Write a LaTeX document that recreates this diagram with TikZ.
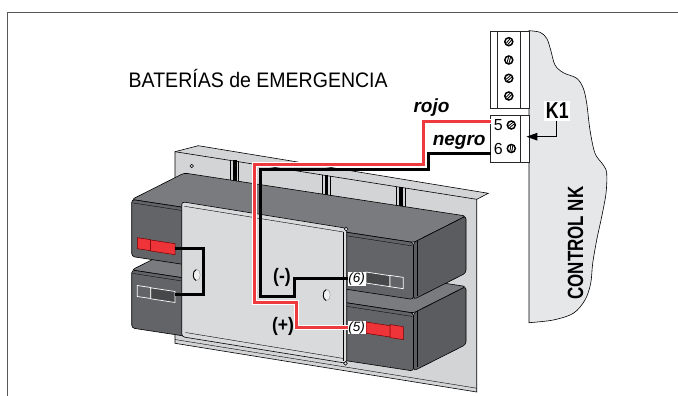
\documentclass[tikz,border=0pt]{standalone}
\usepackage{fontspec}
\setmainfont{Liberation Sans}
\newfontfamily\titlefont[FakeStretch=0.93]{Liberation Sans}
\newfontfamily\condfont[FakeStretch=0.77]{Liberation Sans}
\newfontfamily\signfont[FakeStretch=0.9]{Liberation Sans}
\usetikzlibrary{arrows.meta}

\definecolor{platec}{HTML}{D3D4D6}
\definecolor{brackc}{HTML}{D9DADC}
\definecolor{battop}{HTML}{7A7B7E}
\definecolor{batfront}{HTML}{636467}
\definecolor{batside}{HTML}{5B5C5F}
\definecolor{boardc}{HTML}{E6E7E8}
\definecolor{wirered}{HTML}{EE3A3F}
\definecolor{plugdarkc}{HTML}{47484A}
\definecolor{plugredc}{HTML}{EE3439}
\definecolor{framec}{HTML}{58595B}

\tikzset{
  edge/.style={draw=black, line width=0.6pt},
  redwire/.style={draw=wirered, line width=3pt, line join=miter,
    preaction={draw=white, line width=5pt}},
  blackwire/.style={draw=black, line width=3pt, line join=miter},
  plugred/.style={fill=plugredc, draw=red!45!black, line width=0.5pt},
  plugdark/.style={fill=plugdarkc, draw=white, line width=0.7pt},
  pluglight/.style={fill=batfront, draw=white, line width=0.7pt},
  tag/.style={fill=white, inner sep=0.6pt, font=\fontsize{13.5}{13.5}\selectfont\itshape},
  sign/.style={inner sep=0pt, font=\signfont\fontsize{19.5}{19.5}\selectfont\bfseries},
  wirename/.style={inner sep=0pt, anchor=base west, font=\fontsize{19}{19}\selectfont\bfseries\itshape},
  pinnum/.style={inner sep=0pt, font=\fontsize{16}{16}\selectfont},
  pics/battery/.style={code={
    \filldraw[fill=battop, edge, rounded corners=3pt]
      (0,0) -- (281.8,43) -- (334.3,16.5) -- (52.5,-26.5) -- cycle;
    \filldraw[fill=batside, edge, rounded corners=3pt]
      (281.8,43) -- (334.3,16.5) -- (334.3,{16.5+#1}) -- (281.8,{43+#1}) -- cycle;
    \filldraw[fill=batfront, edge, rounded corners=3pt]
      (0,0) -- (281.8,43) -- (281.8,{43+#1}) -- (0,#1) -- cycle;
    \draw[line width=0.35pt] (1,3.4) -- (280.5,46.4);
    \draw[line width=0.35pt] (285.2,41.4) -- (285.2,{41.4+#1-2});
  }},
  pics/screw/.style={code={
    \draw[line width=1.5pt, fill=white] (0,0) circle (4pt);
    \draw[line width=2.8pt, rotate=#1] (-3.8pt,0) -- (3.8pt,0);
    \draw[white, line width=0.9pt, rotate=#1] (-3.1pt,0) -- (3.1pt,0);
  }},
}

\begin{document}
\begin{tikzpicture}[x=1pt,y=-1pt]
\useasboundingbox (0,0) rectangle (678,396);

% open frame
\draw[framec, line width=0.9pt] (7.3,396) -- (7.3,12.5) -- (678,12.5);

% title
\node[anchor=base west, inner sep=0pt,
      font=\titlefont\fontsize{21}{21}\selectfont] (title) at (128.5,87.8)
      {BATERÍAS de EMERGENCIA};

% ---------- mounting plate ----------
\filldraw[fill=platec, edge]
  (175,151.7) -- (198.3,145.7) -- (488.3,193.3) -- (476.7,199.3)
  -- (476.7,392) -- (175,343.3) -- cycle;
\draw[edge] (175,151.7) -- (476.7,199.3);
\draw[line width=0.4pt] (175,339.5) -- (476.7,388.2);
\draw[line width=0.5pt] (191.7,166) circle (1.8pt);
% slots in the plate
\foreach \sx/\st/\sb in {230/159.5/181, 321.7/174.5/197, 396.5/186.5/209}{
  \draw[line width=0.4pt] (\sx,\st) -- (\sx,\sb);
  \draw[line width=0.4pt] (\sx+8.5,\st+1.3) -- (\sx+8.5,\sb);
  \fill[black] (\sx+2.8,\st+0.4) rectangle (\sx+6.6,\sb);
}

% ---------- batteries ----------
\pic (lowbat) at (131.7,270) {battery=58};
\pic (upbat) at (131.7,199.5) {battery=57};

% ---------- retaining bracket ----------
\filldraw[fill=brackc, edge, rounded corners=3pt]
  (181.7,201.7) -- (346.7,228.3) -- (346.7,363.3) -- (181.7,336.7) -- cycle;
\draw[line width=0.4pt] (184.5,206.3) -- (343.5,232);
\draw[line width=0.4pt] (343.5,232) -- (343.5,360.5);
\draw[line width=0.4pt] (185.5,332.5) -- (343.5,358.5);
\filldraw[fill=brackc, line width=0.5pt] (346.2,229) circle (1.9pt);
\filldraw[fill=brackc, line width=0.5pt] (345.5,363.3) circle (1.9pt);
% holes in the bracket
\foreach \hx/\hy in {196.7/275, 326.7/295}{
  \filldraw[fill=white!88!gray, draw=gray, line width=0.3pt]
    (\hx,\hy) ellipse (3.5pt and 5.5pt);
  \draw[line width=0.9pt, shift={(\hx,\hy)}]
    (100:3.5pt and 5.5pt) arc[start angle=100, end angle=260,
      x radius=3.5pt, y radius=5.5pt];
}

% ---------- battery plugs ----------
% upper battery, left (red)
\filldraw[plugred] (137.3,237.7) -- (150.7,239.7) -- (150.7,250.7) -- (137.3,248.7) -- cycle;
\filldraw[plugred] (150.7,240) -- (175,243.7) -- (175,254.7) -- (150.7,251) -- cycle;
\coordinate (plugA) at (175,248.3);
% lower battery, left (dark)
\filldraw[pluglight] (137.3,285.5) -- (150.7,287.5) -- (150.7,298.5) -- (137.3,296.5) -- cycle;
\filldraw[plugdark] (150.7,287.8) -- (175,291.5) -- (175,302.5) -- (150.7,298.8) -- cycle;
\coordinate (plugB) at (175,294);
% upper battery, right (dark)
\filldraw[plugdark] (366,272) -- (390,275.7) -- (390,286.7) -- (366,283) -- cycle;
\filldraw[pluglight] (390,275.4) -- (403.3,277.4) -- (403.3,288.7) -- (390,286.7) -- cycle;
% lower battery, right (red)
\filldraw[plugred] (366,322) -- (390,325.7) -- (390,337) -- (366,333.3) -- cycle;
\filldraw[plugred] (390,324.6) -- (403.3,326.6) -- (403.3,339.6) -- (390,337.6) -- cycle;

% pin tags at the right plugs
\node[tag] (lab6) at (356.7,278.8) {(6)};
\node[tag] (lab5) at (356.7,327.6) {(5)};

% ---------- control board ----------
\filldraw[fill=boardc, draw=black, line width=0.6pt]
  plot[smooth, tension=0.55] coordinates {
    (529,30.7) (540,32.3) (546.7,38.3) (550.7,50) (555,65) (563.3,72.7)
    (576.7,78.3) (583.3,88.3) (586.7,103.3) (590,130) (595,153.3)
    (603.3,165) (606.7,173.3) (606,193.3) (601.7,216.7) (596.7,240)
    (592.7,263.3) (590.7,283.3) (585,300) (573.3,313.3) (553.3,320)
    (529,322.7)} -- cycle;
\node[rotate=90, inner sep=0pt,
      font=\condfont\fontsize{22}{22}\selectfont\bfseries] (board) at (575.5,243)
      {CONTROL NK};

% terminal blocks
\filldraw[fill=white, draw=black!85, line width=0.7pt] (490.7,31.7) rectangle (529,108);
\draw[black!85, line width=0.7pt] (497,31.7) -- (497,108) (520.7,31.7) -- (520.7,108);
\filldraw[fill=white, draw=black!85, line width=0.7pt] (490.7,115) rectangle (529,162.3);
\draw[black!85, line width=0.7pt] (520.7,115) -- (520.7,162.3);
\pic at (508.8,41.7) {screw=50};
\pic at (508.8,60) {screw=75};
\pic at (508.8,78.3) {screw=40};
\pic at (508.8,96) {screw=45};
\pic at (511.3,125) {screw=40};
\pic at (511.3,148.5) {screw=80};
\node[pinnum] (pin5) at (498.4,125) {5};
\node[pinnum] (pin6) at (498.4,148.5) {6};
\coordinate (t5) at (490.7,121.7);
\coordinate (t6) at (490.7,153.3);

% K1 marker
\node[fill=white, inner sep=1.6pt,
      font=\condfont\fontsize{23}{23}\selectfont\bfseries] (K1) at (557.3,111) {K1};
\coordinate (k1tip) at (526.4,136.7);
\coordinate (k1bend) at (556.7,136.7);
\draw[line width=0.9pt, -{Triangle[length=11pt, width=7.5pt]}]
  (k1bend |- K1.south) -- (k1bend) -- (k1tip);

% ---------- wiring ----------
\coordinate (rbend) at (296.7,302);
\coordinate (bbend) at (294.5,296.5);
\draw[blackwire] (plugA) -- (203.3,248.3) -- (203.3,294) -- (plugB);
\draw[redwire] (t5) -- (423,121.7) -- (423,164.5) -- (254,164.5) -- (254,302)
  -- (rbend) -- (rbend |- lab5.west) -- (lab5.west);
\draw[blackwire] (t6) -- (428.3,153.3) -- (428.3,169) -- (260.5,169)
  -- (260.5,296.5) -- (bbend) -- (bbend |- lab6.west) -- (lab6.west);

% wire names and polarity
\node[wirename] (rojo) at (413.3,112.5) {rojo};
\node[wirename] (negro) at (432.6,145) {negro};
\node[sign] (minus) at (282,277.5) {(-)};
\node[sign] (plus) at (283,326) {(+)};

\end{tikzpicture}
\end{document}
